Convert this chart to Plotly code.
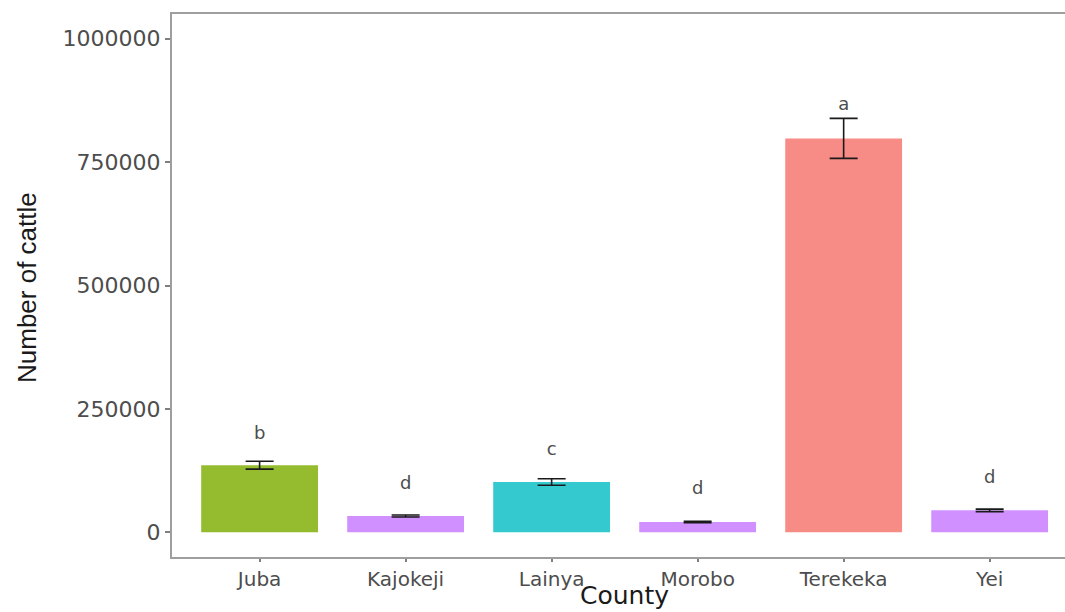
import plotly.graph_objects as go

counties = ["Juba", "Kajokeji", "Lainya", "Morobo", "Terekeka", "Yei"]
cattle = [136000, 33000, 102000, 21000, 798000, 44500]
cattle_se = [8000, 2000, 6500, 1500, 40500, 2500]
letters = ["b", "d", "c", "d", "a", "d"]
letter_y = [199000, 97500, 165000, 87500, 864000, 110000]
bar_colors = ["#94BC2E", "#D090FF", "#33C9CE", "#D090FF", "#F78B85", "#D090FF"]
y_ticks = [0, 250000, 500000, 750000, 1000000]

fig = go.Figure()
fig.add_trace(go.Bar(
    x=counties, y=cattle, width=0.8,
    marker=dict(color=bar_colors, line=dict(width=0)),
    error_y=dict(type="data", array=cattle_se, visible=True,
                 color="#1a1a1a", thickness=1.6, width=14),
    showlegend=False, hoverinfo="x+y",
))
fig.add_trace(go.Scatter(
    x=counties, y=letter_y, mode="text", text=letters,
    textfont=dict(family="DejaVu Sans", size=18, color="#4D4D4D"),
    showlegend=False, hoverinfo="skip",
))

fig.update_layout(
    width=1065, height=612,
    margin=dict(l=172, r=0, t=14, b=55),
    paper_bgcolor="white", plot_bgcolor="white",
    xaxis=dict(
        range=[-0.6, 5.516], showgrid=False, zeroline=False,
        showline=True, linecolor="#9E9E9E", linewidth=2, mirror=True,
        ticks="outside", ticklen=3, tickcolor="#7F7F7F", tickwidth=1.5,
        tickfont=dict(family="DejaVu Sans", size=20, color="#4D4D4D"),
    ),
    yaxis=dict(
        range=[-50000, 1050000], showgrid=False, zeroline=False,
        tickvals=y_ticks, ticktext=[str(v) for v in y_ticks],
        showline=True, linecolor="#9E9E9E", linewidth=2,
        ticks="outside", ticklen=5, tickcolor="#7F7F7F", tickwidth=1.5,
        tickfont=dict(family="DejaVu Sans", size=22, color="#4D4D4D"),
    ),
    annotations=[
        dict(text="County", xref="x", yref="paper", x=2.5, y=(557 - 612) / 543,
             xanchor="center", yanchor="bottom", showarrow=False,
             font=dict(family="DejaVu Sans", size=25, color="#1A1A1A")),
        dict(text="Number of cattle", xref="paper", yref="paper",
             x=(27 - 172) / 893, y=(557 - 288) / 543, textangle=-90,
             xanchor="center", yanchor="middle", showarrow=False,
             font=dict(family="Liberation Sans", size=26, color="#1A1A1A")),
    ],
)

fig.write_html("out.html")
